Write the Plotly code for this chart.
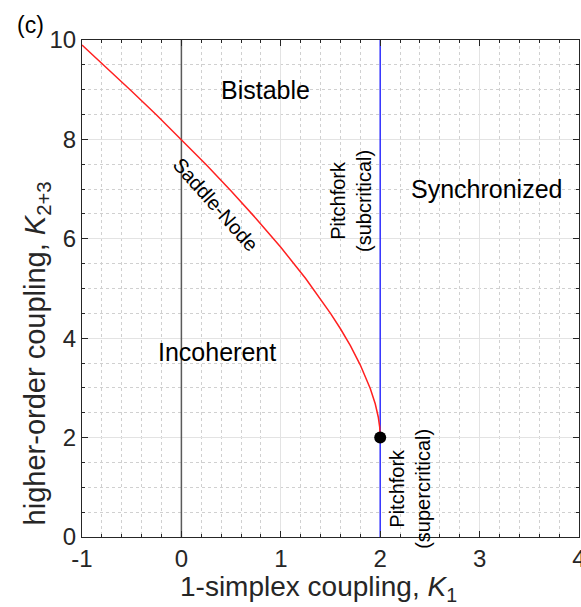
import plotly.graph_objects as go

# Saddle-node curve values
sn_k1 = [-1.0, -0.75, -0.5, -0.25, 0.0, 0.25, 0.5, 0.75, 1.0, 1.25, 1.5, 1.6, 1.7, 1.8, 1.9, 1.95, 1.98, 1.995, 2.0]
sn_k23 = [9.90, 9.44, 8.97, 8.49, 8.00, 7.49, 6.96, 6.41, 5.83, 5.20, 4.50, 4.19, 3.85, 3.46, 2.99, 2.68, 2.42, 2.21, 2.00]

pitch_k1 = [2, 2]
pitch_k23 = [0, 10]
zero_k1 = [0, 0]
zero_k23 = [0, 10]
tri_k1 = [2]
tri_k23 = [2]

x_ticks = [-1, 0, 1, 2, 3, 4]
x_ticktext = ["-1", "0", "1", "2", "3", "4"]
y_ticks = [0, 2, 4, 6, 8, 10]
y_ticktext = ["0", "2", "4", "6", "8", "10"]

font = "Liberation Sans, Arial, sans-serif"
axc = "#262626"

fig = go.Figure()
fig.add_trace(go.Scatter(x=zero_k1, y=zero_k23, mode="lines", line=dict(color="#5a5a5a", width=1.5), showlegend=False))
fig.add_trace(go.Scatter(x=pitch_k1, y=pitch_k23, mode="lines", line=dict(color="#3030ff", width=1.5), showlegend=False))
fig.add_trace(go.Scatter(x=sn_k1, y=sn_k23, mode="lines", line=dict(color="#ff2020", width=1.5), showlegend=False))
fig.add_trace(go.Scatter(x=tri_k1, y=tri_k23, mode="markers", marker=dict(color="black", size=12), showlegend=False))

ann = [
    dict(x=0.846, y=9.0, text="Bistable", size=25, angle=0),
    dict(x=3.07, y=7.0, text="Synchronized", size=25, angle=0),
    dict(x=0.363, y=3.72, text="Incoherent", size=25, angle=0),
    dict(x=0.348, y=6.68, text="Saddle-Node", size=20, angle=48.5),
    dict(x=1.706, y=6.76, text="Pitchfork<br>(subcritical)", size=20, angle=-90),
    dict(x=2.30, y=0.97, text="Pitchfork<br>(supercritical)", size=20, angle=-90),
]
for a in ann:
    fig.add_annotation(x=a["x"], y=a["y"], text=a["text"], showarrow=False, textangle=a["angle"],
                       font=dict(family=font, size=a["size"], color="black"), xref="x", yref="y")

fig.add_annotation(x=-0.103, y=1.03, xref="paper", yref="paper", text="(c)", showarrow=False,
                   xanchor="center", yanchor="middle",
                   font=dict(family=font, size=23, color="black"))

# axis titles
fig.add_annotation(x=0.475, y=-0.104, xref="paper", yref="paper",
                   text="1-simplex coupling, <i>K</i><sub>1</sub>", showarrow=False,
                   xanchor="center", yanchor="middle",
                   font=dict(family=font, size=28, color=axc))
fig.add_annotation(x=-0.09, y=0.37, xref="paper", yref="paper",
                   text="higher-order coupling, <i>K</i><sub>2+3</sub>", showarrow=False,
                   xanchor="center", yanchor="middle", textangle=-90,
                   font=dict(family=font, size=29, color=axc))

axis_common = dict(
    showline=True, linecolor=axc, linewidth=1, mirror="ticks",
    ticks="inside", ticklen=6, tickcolor=axc,
    showgrid=True, gridcolor="#e3e3e3", gridwidth=1,
    zeroline=False, ticklabeloverflow="allow", automargin=False,
    tickfont=dict(family=font, size=24, color=axc),
)

fig.update_layout(
    width=581, height=607,
    margin=dict(l=82, r=2, t=40, b=70),
    plot_bgcolor="white", paper_bgcolor="white",
    xaxis=dict(range=[-1, 4], tickvals=x_ticks, ticktext=x_ticktext, **axis_common,
               minor=dict(dtick=0.2, showgrid=True, griddash="dot", gridcolor="#d0d0d0", ticks="inside", ticklen=3, tickcolor=axc)),
    yaxis=dict(range=[0, 10], tickvals=y_ticks, ticktext=y_ticktext, **axis_common,
               minor=dict(dtick=0.5, showgrid=True, griddash="dot", gridcolor="#d0d0d0", ticks="inside", ticklen=3, tickcolor=axc)),
)

fig.write_html("out.html")
